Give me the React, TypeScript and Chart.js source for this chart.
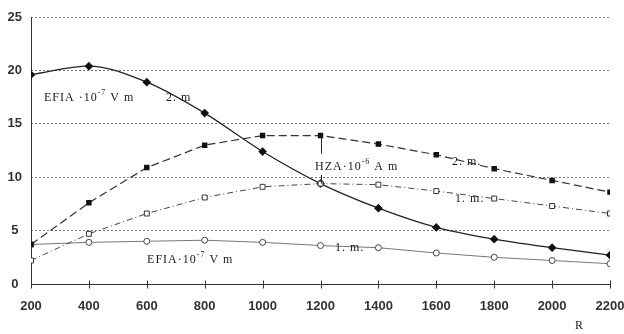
import React, { useEffect, useRef } from "react";
import { Chart, registerables } from "chart.js";

Chart.register(...registerables);

const distances = [200, 400, 600, 800, 1000, 1200, 1400, 1600, 1800, 2000, 2200];
const efia2m = [19.6, 20.4, 18.9, 16.0, 12.4, 9.4, 7.1, 5.3, 4.2, 3.4, 2.7];
const hza2m = [3.7, 7.6, 10.9, 13.0, 13.9, 13.9, 13.1, 12.1, 10.8, 9.7, 8.6];
const hza1m = [2.2, 4.7, 6.6, 8.1, 9.1, 9.4, 9.3, 8.7, 8.0, 7.3, 6.6];
const efia1m = [3.7, 3.9, 4.0, 4.1, 3.9, 3.6, 3.4, 2.9, 2.5, 2.2, 1.9];
const yTickStep = 5;
const yMax = 25;
const xAxisTitle = "R";

// Text labels placed in data units: [segments], x (left edge), y (centre)
type Seg = [string, boolean];
const labels: { parts: Seg[]; x: number; y: number }[] = [
  { parts: [["EFIA ·10", false], ["-7", true], [" V m", false]], x: 245, y: 17.4 },
  { parts: [["2. m", false]], x: 666, y: 17.4 },
  { parts: [["HZA·10", false], ["-6", true], [" A m", false]], x: 1181, y: 11.0 },
  { parts: [["2. m.", false]], x: 1654, y: 11.4 },
  { parts: [["1. m.", false]], x: 1665, y: 8.0 },
  { parts: [["1. m.", false]], x: 1250, y: 3.4 },
  { parts: [["EFIA·10", false], ["-7", true], [" V m", false]], x: 601, y: 2.3 },
];
// connector from HZA 2 m point down to the HZA label and on to the 1 m point
const connectorX = 1200;
const connectorSegments: [number, number][] = [
  [13.9, 12.2],
  [10.2, 9.4],
];

const pts = (ys: number[]) => ys.map((y, i) => ({ x: distances[i], y }));

const decorPlugin = {
  id: "decor",
  beforeDatasetsDraw(chart: any) {
    const { ctx, chartArea, scales } = chart;
    const x = scales.x;
    const y = scales.y;
    ctx.save();
    ctx.strokeStyle = "#333";
    ctx.lineWidth = 1;
    ctx.setLineDash([]);
    const y0 = Math.round(y.getPixelForValue(0)) + 0.5;
    const xl = Math.round(chartArea.left) + 0.5;
    ctx.beginPath();
    ctx.moveTo(xl, y0);
    ctx.lineTo(chartArea.right, y0);
    ctx.moveTo(xl, y0);
    ctx.lineTo(xl, chartArea.top);
    ctx.stroke();
    // cross ticks
    ctx.beginPath();
    distances.forEach((d) => {
      const px = Math.round(x.getPixelForValue(d)) + 0.5;
      ctx.moveTo(px, y0 - 4);
      ctx.lineTo(px, y0 + 4);
    });
    ctx.stroke();
    ctx.restore();
  },
  afterDatasetsDraw(chart: any) {
    const { ctx, chartArea, scales } = chart;
    const x = scales.x;
    const y = scales.y;
    ctx.save();
    // connector
    ctx.strokeStyle = "#222";
    ctx.lineWidth = 1;
    ctx.beginPath();
    const cx = Math.round(x.getPixelForValue(connectorX)) + 0.5;
    connectorSegments.forEach(([a, b]) => {
      ctx.moveTo(cx, y.getPixelForValue(a));
      ctx.lineTo(cx, y.getPixelForValue(b));
    });
    ctx.stroke();
    ctx.fillStyle = "#1a1a1a";
    ctx.textBaseline = "middle";
    ctx.textAlign = "left";
    (ctx as any).letterSpacing = "1px";
    labels.forEach((l) => {
      let px = x.getPixelForValue(l.x);
      const py = y.getPixelForValue(l.y);
      l.parts.forEach(([t, sup]) => {
        ctx.font = sup ? "8px 'Liberation Serif'" : "12px 'Liberation Serif'";
        ctx.fillText(t, px, sup ? py - 5 : py);
        px += ctx.measureText(t).width;
      });
    });
    ctx.font = "12px 'Liberation Serif'";
    ctx.fillText(xAxisTitle, x.getPixelForValue(2079), chartArea.bottom + 42);
    ctx.restore();
  },
};

export default function App() {
  const ref = useRef<HTMLCanvasElement>(null);
  useEffect(() => {
    const canvas = ref.current!;
    const chart = new Chart(canvas, {
      type: "line",
      data: {
        datasets: [
          {
            label: "HZA 2 m",
            data: pts(hza2m),
            borderColor: "#333",
            borderWidth: 1.2,
            borderDash: [8, 4],
            pointStyle: "rect",
            pointRadius: 3,
            pointBackgroundColor: "#111",
            pointBorderColor: "#111",
            tension: 0,
          },
          {
            label: "HZA 1 m",
            data: pts(hza1m),
            borderColor: "#444",
            borderWidth: 1,
            borderDash: [6, 3, 1, 3],
            pointStyle: "rect",
            pointRadius: 3.5,
            pointBackgroundColor: "#fff",
            pointBorderColor: "#333",
            tension: 0,
          },
          {
            label: "EFIA 1 m",
            data: pts(efia1m),
            borderColor: "#777",
            borderWidth: 1,
            pointStyle: "circle",
            pointRadius: 3,
            pointBackgroundColor: "#fff",
            pointBorderColor: "#444",
            tension: 0,
          },
          {
            label: "EFIA 2 m",
            data: pts(efia2m),
            borderColor: "#222",
            borderWidth: 1.2,
            pointStyle: "rectRot",
            pointRadius: 3.5,
            pointBackgroundColor: "#111",
            pointBorderColor: "#111",
            cubicInterpolationMode: "monotone",
          },
        ],
      },
      options: {
        responsive: false,
        animation: false,
        layout: { padding: { top: 17, right: 0, left: 0, bottom: 0 } },
        plugins: { legend: { display: false }, tooltip: { enabled: false } },
        scales: {
          x: {
            type: "linear",
            min: 200,
            max: 2200,
            ticks: {
              stepSize: 200,
              padding: 15,
              color: "#333",
              font: { family: "'Liberation Sans'", size: 13, weight: "bold" },
              maxRotation: 0,
              callback: (v: any) => String(v),
            },
            grid: { display: false, drawTicks: false },
            border: { display: false },
            afterFit: (s: any) => {
              s.height = 50;
              s.paddingRight = 14;
              s.paddingLeft = 0;
            },
          },
          y: {
            min: 0,
            max: yMax,
            ticks: {
              stepSize: yTickStep,
              color: "#333",
              padding: 9,
              crossAlign: "center",
              font: { family: "'Liberation Sans'", size: 13, weight: "bold" },
            },
            grid: {
              drawTicks: false,
              color: (c: any) => (c.tick && c.tick.value === 0 ? "rgba(0,0,0,0)" : "#777"),
            },
            border: { display: false, dash: [2, 2] },
            afterFit: (s: any) => {
              s.width = 31;
            },
          },
        },
      },
      plugins: [decorPlugin],
    });
    return () => chart.destroy();
  }, []);
  return (
    <div style={{ position: "absolute", left: 0, top: 0, width: 624, height: 334, background: "#fff" }}>
      <canvas ref={ref} width={624} height={334} />
    </div>
  );
}
